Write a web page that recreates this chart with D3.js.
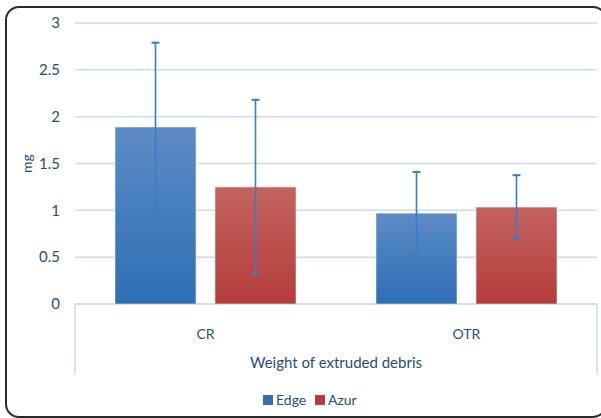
<!DOCTYPE html>
<html>
<head>
<meta charset="utf-8">
<script src="https://cdn.jsdelivr.net/npm/d3@7"></script>
<style>
  body { margin: 0; background: #fff; }
  text { font-family: Lato, "Open Sans", sans-serif; }
</style>
</head>
<body>
<div id="container"></div>
<script>
const categories = ["CR", "OTR"];
const series = ["Edge", "Azur"];
const means = { Edge: [1.89, 0.97], Azur: [1.25, 1.035] };
const errors = { Edge: [0.9, 0.44], Azur: [0.93, 0.34] };
const yTicks = [0, 0.5, 1, 1.5, 2, 2.5, 3];

const width = 601;
const height = 418;
const margin = ({ top: 23, right: 4, bottom: 114, left: 75 });
const textColor = "#1f4e79";

const svg = d3.select("#container").append("svg")
    .attr("width", width)
    .attr("height", height);

// gradients for the bars
const defs = svg.append("defs");
const grads = { Edge: ["#5d8bc7", "#2e6fb4"], Azur: ["#c3645f", "#b43c3b"] };
series.forEach(s => {
    const lg = defs.append("linearGradient")
        .attr("id", "grad" + s)
        .attr("x1", 0).attr("y1", 0).attr("x2", 0).attr("y2", 1);
    lg.append("stop").attr("offset", "0%").attr("stop-color", grads[s][0]);
    lg.append("stop").attr("offset", "100%").attr("stop-color", grads[s][1]);
});

// outer frame
svg.append("rect")
    .attr("x", 6).attr("y", 7)
    .attr("width", 600).attr("height", 410)
    .attr("rx", 13)
    .attr("fill", "none")
    .attr("stroke", "#2b2b2b")
    .attr("stroke-width", 2);

const x0 = d3.scaleBand()
    .domain(categories)
    .range([margin.left, width - margin.right])
    .paddingInner(0)
    .paddingOuter(0);

const x1 = d3.scaleBand()
    .domain(series)
    .range([40, x0.bandwidth() - 40])
    .paddingInner(0.19);

const y = d3.scaleLinear()
    .domain([0, 3])
    .range([height - margin.bottom, margin.top]);

// grid
svg.append("g")
    .selectAll("line")
    .data(yTicks)
    .join("line")
    .attr("x1", margin.left)
    .attr("x2", width - margin.right)
    .attr("y1", d => y(d))
    .attr("y2", d => y(d))
    .attr("stroke", "#c9dcf0")
    .attr("stroke-width", 1.5);

// y tick labels
svg.append("g")
    .selectAll("text")
    .data(yTicks)
    .join("text")
    .attr("x", 60)
    .attr("y", d => y(d))
    .attr("dy", "0.35em")
    .attr("text-anchor", "end")
    .attr("font-size", 15)
    .attr("fill", textColor)
    .text(d => d);

// category frame lines under the axis
const axisBottom = height - margin.bottom;
svg.append("path")
    .attr("fill", "none")
    .attr("stroke", "#c9dcf0")
    .attr("stroke-width", 1.5)
    .attr("d", `M${margin.left},${axisBottom + 70}V${axisBottom}H${width - margin.right}V${axisBottom + 70}`);

// bars
const groups = svg.append("g")
    .selectAll("g")
    .data(categories)
    .join("g")
    .attr("transform", d => `translate(${x0(d)},0)`);

const items = (c, i) => series.map(s => ({ s, v: means[s][i], e: errors[s][i] }));

groups.selectAll("rect")
    .data(items)
    .join("rect")
    .attr("x", d => x1(d.s))
    .attr("y", d => y(d.v))
    .attr("width", x1.bandwidth())
    .attr("height", d => y(0) - y(d.v))
    .attr("fill", d => `url(#grad${d.s})`)
    .attr("stroke", "#ffffff")
    .attr("stroke-opacity", 0.5)
    .attr("stroke-width", 1);

// error bars
const errG = groups.selectAll("g.err")
    .data(items)
    .join("g")
    .attr("class", "err")
    .attr("stroke", "#3b7cc4")
    .attr("stroke-width", 1.6);

errG.append("line")
    .attr("x1", d => x1(d.s) + x1.bandwidth() / 2)
    .attr("x2", d => x1(d.s) + x1.bandwidth() / 2)
    .attr("y1", d => y(d.v + d.e))
    .attr("y2", d => y(d.v - d.e));

errG.selectAll("line.cap")
    .data(d => [d.v + d.e, d.v - d.e].map(v => ({ s: d.s, v })))
    .join("line")
    .attr("class", "cap")
    .attr("x1", d => x1(d.s) + x1.bandwidth() / 2 - 4)
    .attr("x2", d => x1(d.s) + x1.bandwidth() / 2 + 4)
    .attr("y1", d => y(d.v))
    .attr("y2", d => y(d.v))
    .attr("stroke-width", 2);

// category labels
svg.append("g")
    .selectAll("text")
    .data(categories)
    .join("text")
    .attr("x", d => x0(d) + x0.bandwidth() / 2)
    .attr("y", axisBottom + 30)
    .attr("dy", "0.35em")
    .attr("text-anchor", "middle")
    .attr("font-size", 14)
    .attr("fill", textColor)
    .text(d => d);

// axis titles
svg.append("text")
    .attr("x", (margin.left + width - margin.right) / 2)
    .attr("y", axisBottom + 59)
    .attr("dy", "0.35em")
    .attr("text-anchor", "middle")
    .attr("font-size", 15)
    .attr("fill", textColor)
    .text("Weight of extruded debris");

svg.append("text")
    .attr("transform", `translate(27,${y(1.5)}) rotate(-90)`)
    .attr("dy", "0.35em")
    .attr("text-anchor", "middle")
    .attr("font-size", 14)
    .attr("fill", textColor)
    .text("mg");

// legend
const legend = svg.append("g")
    .attr("transform", `translate(263,400)`);
const legendX = [0, 52];
const legendItems = legend.selectAll("g")
    .data(series)
    .join("g")
    .attr("transform", (d, i) => `translate(${legendX[i]},0)`);
legendItems.append("rect")
    .attr("x", 0).attr("y", -5)
    .attr("width", 10).attr("height", 10)
    .attr("fill", d => grads[d][1]);
legendItems.append("text")
    .attr("x", 13)
    .attr("dy", "0.35em")
    .attr("font-size", 14)
    .attr("fill", textColor)
    .text(d => d);
</script>
</body>
</html>
